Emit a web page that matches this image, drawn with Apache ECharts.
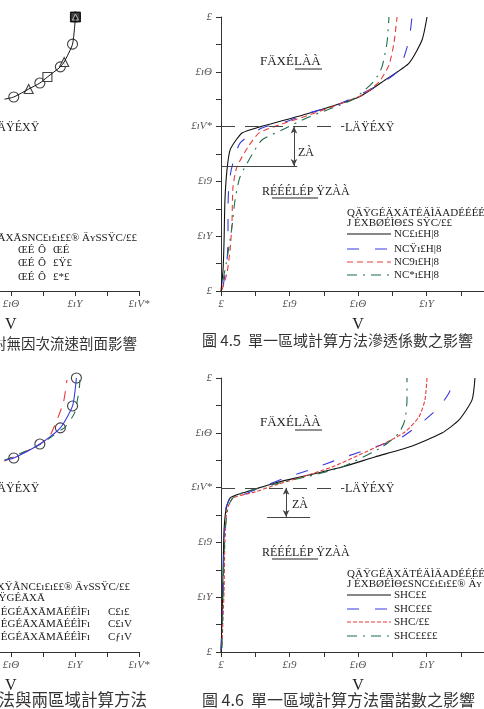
<!DOCTYPE html>
<html><head><meta charset="utf-8">
<script src="https://cdn.jsdelivr.net/npm/echarts@6/dist/echarts.min.js"></script>
<style>html,body{margin:0;padding:0;overflow:hidden;background:#fff;width:484px;height:709px}
#c{position:absolute;left:-150px;top:0;width:660px;height:709px}</style>
</head><body><div id="c"></div>
<script>
// ---- tick labels (as printed, garbled font) ----
const xTickLabels = ['£', '£ı9', '£ıΘ', '£ıY', '£ıV*'];      // 0, 0.4, 0.8, 1.2, 1.6
const yTickLabels = ['£', '£ıY', '£ı9', '£ıV*', '£ıΘ', '£'];  // 0 .. 1 step 0.2

// ---- left-top panel (partially visible) ----
const ltLine = [[0.76,0.700],[0.818,0.708],[0.911,0.737],[0.981,0.759],[1.028,0.781],[1.109,0.818],[1.133,0.836],[1.185,0.901],[1.203,1.0]];
const ltCircles = [[0.818,0.708],[0.981,0.759],[1.109,0.818],[1.185,0.901],[1.203,1.0]];
const ltTriangles = [[0.911,0.737],[1.133,0.836],[1.203,1.0]];
const ltSquares = [[1.028,0.781],[1.203,1.0]];

// ---- Fig 4.5 (permeability) ----
const f45_k1 = [[0,0],[0.012,0.077],[0.018,0.186],[0.023,0.332],[0.035,0.442],[0.053,0.515],[0.088,0.551],[0.123,0.577],[0.228,0.599],[0.479,0.642],[0.806,0.708],[0.958,0.770],[1.098,0.832],[1.174,0.916],[1.203,1.0]];
const f45_k2 = [[0.012,0.015],[0.035,0.113],[0.041,0.186],[0.041,0.307],[0.047,0.394],[0.064,0.453],[0.111,0.540],[0.239,0.595],[0.374,0.617],[0.514,0.650],[0.648,0.672],[0.782,0.708],[0.940,0.759],[1.039,0.807],[1.098,0.916],[1.115,1.0]];
const f45_k3 = [[0.006,0.004],[0.035,0.066],[0.053,0.150],[0.064,0.248],[0.070,0.380],[0.093,0.453],[0.158,0.526],[0.222,0.577],[0.339,0.606],[0.514,0.642],[0.707,0.686],[0.823,0.715],[0.923,0.763],[0.981,0.825],[1.010,0.905],[1.028,1.0]];
const f45_k4 = [[0.012,0.040],[0.041,0.139],[0.064,0.234],[0.082,0.332],[0.111,0.416],[0.187,0.504],[0.239,0.551],[0.356,0.588],[0.514,0.635],[0.666,0.672],[0.765,0.697],[0.841,0.734],[0.899,0.770],[0.940,0.818],[0.969,0.905],[0.981,1.0]];
const f45_delta = 0.6, f45_base = 0.456, f45_arrowX = 0.426, f45_deltaEnd = 0.72, f45_baseEnd = 0.445;

// ---- left-bottom panel (partially visible) ----
const lbBlue = [[0.76,0.700],[0.818,0.708],[0.981,0.759],[1.109,0.818],[1.185,0.898],[1.209,1.0]];
const lbCircles = [[0.818,0.708],[0.981,0.759],[1.109,0.818],[1.185,0.898],[1.209,1.0]];
const lbRed = [[0.76,0.697],[0.964,0.752],[1.040,0.785],[1.127,0.909],[1.150,0.993]];
const lbGreen = [[0.76,0.700],[0.981,0.757],[1.100,0.805],[1.139,0.821],[1.197,0.872],[1.226,0.956],[1.232,1.0]];

// ---- Fig 4.6 (Reynolds number) ----
const f46_r1 = [[0,0],[0.006,0.117],[0.012,0.299],[0.018,0.445],[0.029,0.518],[0.053,0.562],[0.123,0.580],[0.181,0.591],[0.315,0.617],[0.514,0.646],[0.707,0.675],[0.899,0.712],[1.098,0.748],[1.290,0.799],[1.390,0.847],[1.466,0.920],[1.483,1.0]];
const f46_r2 = [[0,0.007],[0.012,0.190],[0.018,0.409],[0.029,0.526],[0.064,0.569],[0.123,0.573],[0.239,0.602],[0.374,0.635],[0.514,0.664],[0.707,0.708],[0.899,0.748],[1.057,0.785],[1.191,0.847],[1.273,0.894],[1.331,0.945],[1.361,1.0]];
const f46_r3 = [[0.006,0.026],[0.018,0.226],[0.023,0.409],[0.035,0.518],[0.070,0.562],[0.199,0.584],[0.315,0.609],[0.473,0.639],[0.648,0.675],[0.806,0.719],[0.958,0.763],[1.074,0.803],[1.156,0.858],[1.191,0.920],[1.203,1.0]];
const f46_r4 = [[0.006,0.015],[0.012,0.226],[0.023,0.427],[0.041,0.529],[0.076,0.566],[0.181,0.591],[0.315,0.613],[0.514,0.642],[0.707,0.675],[0.940,0.748],[1.039,0.799],[1.074,0.847],[1.086,0.920],[1.086,1.0]];
const f46_delta = 0.599, f46_base = 0.493, f46_arrowX = 0.380, f46_baseFrom = 0.269, f46_baseTo = 0.520, f46_deltaEnd = 0.72;

// ---- texts ----
const t45 = '圖 4.5  單一區域計算方法滲透係數之影響';
const t46 = '圖 4.6  單一區域計算方法雷諾數之影響';
const tLT = '對無因次流速剖面影響';
const tLB = '法與兩區域計算方法';
const legK = ['NC£ı£H|8', 'NCŸı£H|8', 'NC9ı£H|8', 'NC*ı£H|8'];
const legR = ['SHC££', 'SHC£££', 'SHC/££', 'SHC££££'];

const OX = 150; // container offset
const BLUE = '#3a3ae0', RED = '#e83c3c', GREEN = '#1f7048', BLACK = '#111';
const SERIF = "'Liberation Serif','DejaVu Serif',serif";

function xAx(g){ return {type:'value', gridIndex:g, min:0, max:1.6, interval:0.4,
  axisLine:{show:true,onZero:false,lineStyle:{color:'#333',width:1}},
  axisTick:{show:true,length:5,lineStyle:{color:'#333'}},
  minorTick:{show:true,splitNumber:2,length:5,lineStyle:{color:'#333'}},
  splitLine:{show:false},
  axisLabel:{formatter:v=>xTickLabels[Math.round(v/0.4)], fontFamily:SERIF, fontStyle:'italic', fontSize:11, color:'#555', margin:8},
  name:'V', nameLocation:'middle', nameGap:26, nameTextStyle:{fontFamily:SERIF, fontSize:16, color:'#222'}}; }
function yAx(g){ return {type:'value', gridIndex:g, min:0, max:1, interval:0.2,
  axisLine:{show:true,onZero:false,lineStyle:{color:'#333',width:1}},
  axisTick:{show:true,length:5,lineStyle:{color:'#333'}},
  minorTick:{show:true,splitNumber:2,length:5,lineStyle:{color:'#333'}},
  splitLine:{show:false},
  axisLabel:{formatter:v=>yTickLabels[Math.round(v/0.2)], fontFamily:SERIF, fontStyle:'italic', fontSize:11, color:'#555', margin:9}}; }
function ln(g, data, color, type, width, extra){ return Object.assign({type:'line', xAxisIndex:g, yAxisIndex:g, data, showSymbol:false, symbol:'none', smooth:0.2, animation:false,
  lineStyle:{color, type, width:width||1}}, extra||{}); }
function sc(g, data, symbol, size, extra){ return Object.assign({type:'scatter', xAxisIndex:g, yAxisIndex:g, data, symbol, symbolSize:size, animation:false,
  itemStyle:{color:'#fff', borderColor:'#111', borderWidth:1.1}}, extra||{}); }
function annot(delta, base, arrowX, baseFrom, baseTo, deltaEnd){ return {silent:true, symbol:'none', label:{show:false}, animation:false,
  lineStyle:{color:'#444', width:1, type:'solid'},
  data:[
    [{coord:[0,delta], lineStyle:{type:[14,10], color:'#444'}},{coord:[deltaEnd,delta]}],
    [{coord:[baseFrom,base]},{coord:[baseTo,base]}],
    [{coord:[arrowX,base], symbol:'arrow', symbolSize:[5,7]},{coord:[arrowX,delta], symbol:'arrow', symbolSize:[5,7]}]
  ]}; }

const G = [];
function T(x,y,text,size,opt){ G.push({type:'text', x:x+OX, y:y, silent:true,
  style:Object.assign({text, fill:'#222', font:(size||11)+'px '+SERIF, textVerticalAlign:'middle', textAlign:'left'}, (opt&&opt.style)||{})}); }
function L(x1,y1,x2,y2,color,dash,w){ G.push({type:'line', silent:true, shape:{x1:x1+OX,y1,x2:x2+OX,y2}, style:{stroke:color, lineWidth:w||1, lineDash:dash||null}}); }
const CJK = "'Noto Sans CJK TC','Noto Sans CJK SC',sans-serif";

// top-right texts
T(260,62,'FÄXÉLÀÀ',13); L(295,69,322,69,'#222');
T(345,128,'LÄŸÉXŸ',12);
T(298,153,'ZÀ',12);
T(262,192,'RÉÉÉLÉP ŸZÀÀ',12); L(272,198,318,198,'#222');
T(347,213,'QÄŸGÉÄXÄTÉÄÌÄADÉÉÉÉXŸ',11);
T(347,223,'J ÉXBØÉÌΘ£S SŸC/££',11);
const legY45 = [234,249,262,275];
const legStyle = [[BLACK,null],[BLUE,[12,16]],[RED,[6,4]],[GREEN,[10,6,2,6]]];
legY45.forEach((y,i)=>{ L(347,y,391,y,legStyle[i][0],legStyle[i][1],1.1); T(394,y,legK[i],11); });
// bottom-right texts
T(260,423,'FÄXÉLÀÀ',13); L(295,430,322,430,'#222');
T(345,489,'LÄŸÉXŸ',12);
T(292,505,'ZÀ',12);
T(262,553,'RÉÉÉLÉP ŸZÀÀ',12); L(272,559,318,559,'#222');
T(347,574,'QÄŸGÉÄXÄTÉÄÌÄADÉÉÉÉXŸ',11);
T(347,584,'J ÉXBØÉÌΘ£SNC£ı£ı££® Äʏ',11);
const legY46 = [595,609,622,636];
const legStyle46 = [[BLACK,null],[BLUE,[12,16]],[RED,[4,2]],[GREEN,[10,6,2,6]]];
legY46.forEach((y,i)=>{ L(347,y,391,y,legStyle46[i][0],legStyle46[i][1],1.1); T(394,y,legR[i],11); });
// left-top texts
T(-10,128,'LÄŸÉXŸ',12);
T(137,238,'ĀXĀSNC£ı£ı££® ÄʏSSŸC/££',11,{style:{textAlign:'right'}});
[['ŒÉ','ŒÉ',250],['ŒÉ','£Ÿ£',263],['ŒÉ','£*£',277]].forEach(r=>{ T(18,r[2],r[0],11); T(38,r[2],'Ô',11); T(53,r[2],r[1],11); });
// left-bottom texts
T(-10,489,'LÄŸÉXŸ',12);
T(130,587,'ĀXŸÃNC£ı£ı££® ÄʏSSŸC/££',11,{style:{textAlign:'right'}});
T(45,598,'ŸGÉĀXĀ',11,{style:{textAlign:'right'}});
[['C£ı£',612],['C£ıV',624],['CƒıV',637]].forEach(r=>{ T(90,r[1],'ÉGÉĀXĀMĀÉÉÌFı',11,{style:{textAlign:'right'}}); T(108,r[1],r[0],11); });
// titles
T(202,340,t45,15,{style:{font:'15px '+CJK, fill:'#333'}});
T(202,700,t46,16,{style:{font:'16px '+CJK, fill:'#333'}});
T(137,343,tLT,14.5,{style:{font:'14.5px '+CJK, fill:'#333', textAlign:'right'}});
T(147,700,tLB,16.5,{style:{font:'16.5px '+CJK, fill:'#333', textAlign:'right'}});

const chart = echarts.init(document.getElementById('c'), null, {renderer:'canvas'});
chart.setOption({
  animation:false,
  grid:[
    {left:15, top:17, width:274, height:274},
    {left:371, top:17, width:274, height:274},
    {left:15, top:378, width:274, height:274},
    {left:371, top:378, width:274, height:274}
  ],
  xAxis:[xAx(0),xAx(1),xAx(2),xAx(3)],
  yAxis:[yAx(0),yAx(1),yAx(2),yAx(3)],
  series:[
    ln(0, ltLine, BLACK, 'solid', 1),
    sc(0, ltCircles, 'circle', 10),
    sc(0, ltTriangles, 'triangle', 9),
    sc(0, ltSquares, 'rect', 9),
    sc(0, [ltSquares[ltSquares.length-1]], 'rect', 10, {itemStyle:{color:'#111',borderColor:'#111'}}),
    sc(0, [ltTriangles[ltTriangles.length-1]], 'triangle', 6, {itemStyle:{color:'#111',borderColor:'#ddd',borderWidth:1}}),
    ln(1, f45_k1, BLACK, 'solid', 1.1, {markLine:annot(f45_delta, f45_base, f45_arrowX, 0, f45_baseEnd, f45_deltaEnd), z:3}),
    ln(1, f45_k2, BLUE, [12,16], 1.1),
    ln(1, f45_k3, RED, [6,4], 1.1),
    ln(1, f45_k4, GREEN, [10,6,2,6], 1.1),
    ln(2, lbRed, RED, [10,8], 1.1),
    ln(2, lbGreen, GREEN, [8,8], 1.1),
    ln(2, lbBlue, BLUE, 'solid', 1.1),
    sc(2, lbCircles, 'circle', 10, {itemStyle:{color:'rgba(0,0,0,0)', borderColor:'#111', borderWidth:1.1}}),
    ln(3, f46_r1, BLACK, 'solid', 1.1, {markLine:annot(f46_delta, f46_base, f46_arrowX, f46_baseFrom, f46_baseTo, f46_deltaEnd), z:3}),
    ln(3, f46_r2, BLUE, [12,16], 1.1),
    ln(3, f46_r3, RED, [4,2], 1.1),
    ln(3, f46_r4, GREEN, [10,6,2,6], 1.1)
  ],
  graphic:G
});
</script></body></html>
